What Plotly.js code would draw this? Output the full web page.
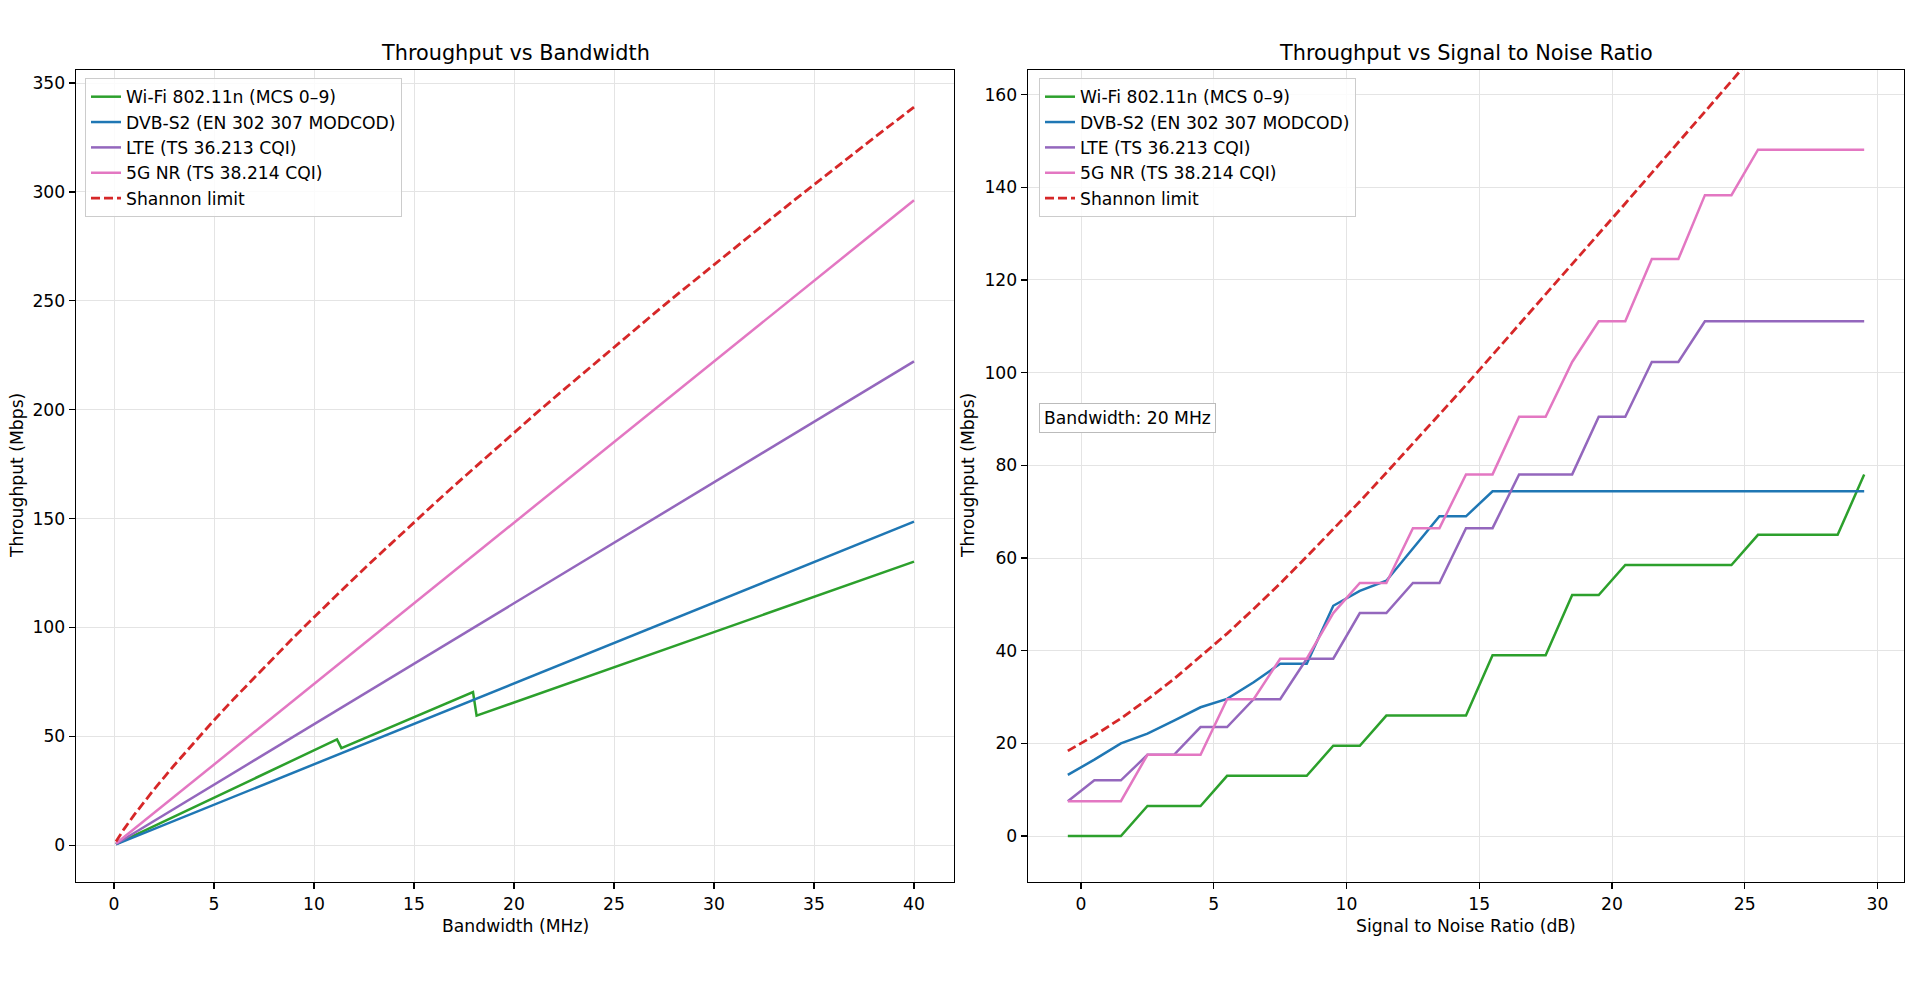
<!DOCTYPE html>
<html>
<head>
<meta charset="utf-8">
<script src="https://cdn.plot.ly/plotly-3.0.1.min.js"></script>
<style>
  html, body { margin: 0; padding: 0; background: #fff; }
  #chart { width: 1919px; height: 982px; }
</style>
</head>
<body>
<div id="chart"></div>
<script>
// left panel: throughput vs bandwidth
const bwMHz = [0.1, 40];
const dvbBw = [0.37, 148.6];
const lteBw = [0.56, 222.2];
const nrBw = [0.74, 296.2];
const wifiBwMHz = [0.1, 11.15, 11.37, 17.95, 18.13, 40];
const wifiBw = [0.44, 48.6, 44.6, 70.3, 59.5, 130.2];
const shannonBwMHz = [0.1, 0.5, 1, 2, 3, 4, 5, 6, 7, 8, 9, 10, 11, 12, 13, 14, 15, 16, 17, 18, 19, 20,
  21, 22, 23, 24, 25, 26, 27, 28, 29, 30, 31, 32, 33, 34, 35, 36, 37, 38, 39, 40];
const shannonBw = [1.7, 7.4, 13.8, 25.6, 36.6, 47.2, 57.4, 67.3, 76.9, 86.4, 95.6, 104.7, 113.7, 122.5,
  131.2, 139.8, 148.3, 156.7, 165.0, 173.2, 181.4, 189.5, 197.5, 205.4, 213.2, 221.1, 228.8, 236.5,
  244.1, 251.7, 259.2, 266.7, 274.1, 281.5, 288.8, 296.1, 303.4, 310.6, 317.7, 324.9, 331.9, 339.0];

// right panel: throughput vs SNR at 20 MHz
const snrDb = [-0.5, 0.5, 1.5, 2.5, 3.5, 4.5, 5.5, 6.5, 7.5, 8.5, 9.5, 10.5, 11.5, 12.5, 13.5, 14.5,
  15.5, 16.5, 17.5, 18.5, 19.5, 20.5, 21.5, 22.5, 23.5, 24.5, 25.5, 26.5, 27.5, 28.5, 29.5];
const wifiSnr = [0, 0, 0, 6.5, 6.5, 6.5, 13, 13, 13, 13, 19.5, 19.5, 26, 26, 26, 26, 39, 39, 39,
  52, 52, 58.5, 58.5, 58.5, 58.5, 58.5, 65, 65, 65, 65, 78];
const dvbSnr = [13.2, 16.5, 20.0, 22.1, 24.9, 27.8, 29.6, 33.2, 37.2, 37.2, 49.7, 52.9, 55.1, 62.0,
  69.0, 69.0, 74.4, 74.4, 74.4, 74.4, 74.4, 74.4, 74.4, 74.4, 74.4, 74.4, 74.4, 74.4, 74.4, 74.4, 74.4];
const lteSnr = [7.54, 12.03, 12.03, 17.54, 17.54, 23.52, 23.52, 29.53, 29.53, 38.28, 38.28, 48.13,
  48.13, 54.61, 54.61, 66.45, 66.45, 78.05, 78.05, 78.05, 90.47, 90.47, 102.3, 102.3,
  111.1, 111.1, 111.1, 111.1, 111.1, 111.1, 111.1];
const nrSnr = [7.54, 7.54, 7.54, 17.54, 17.54, 17.54, 29.53, 29.53, 38.28, 38.28, 48.13, 54.61, 54.61,
  66.45, 66.45, 78.05, 78.05, 90.47, 90.47, 102.3, 111.1, 111.1, 124.5, 124.5, 138.3, 138.3,
  148.1, 148.1, 148.1, 148.1, 148.1];
const shannonSnr = [18.4, 21.7, 25.4, 29.5, 33.9, 38.7, 43.7, 49.0, 54.5, 60.3, 66.2, 72.2, 78.4,
  84.6, 91.0, 97.3, 103.8, 110.3, 116.8, 123.3, 129.9, 136.5, 143.1, 149.6, 156.3, 162.9,
  169.5, 176.1, 182.8, 189.4, 196.0];

const names = ['Wi-Fi 802.11n (MCS 0\u20139)', 'DVB-S2 (EN 302 307 MODCOD)', 'LTE (TS 36.213 CQI)',
  '5G NR (TS 38.214 CQI)', 'Shannon limit'];
const colors = ['#2ca02c', '#1f77b4', '#9467bd', '#e377c2', '#d62728'];

const W = 1919, H = 982;
const FS = 17.2;
const font = 'DejaVu Sans, sans-serif';

function line(x, y, i, side) {
  const isLeft = side === 'l';
  return {
    x: x, y: y, type: 'scatter', mode: 'lines',
    name: names[i],
    xaxis: isLeft ? 'x' : 'x2',
    yaxis: isLeft ? 'y' : 'y2',
    legend: isLeft ? 'legend' : 'legend2',
    legendgroup: side + i,
    line: { color: colors[i], width: i === 4 ? 2.8 : 2.5, dash: i === 4 ? '9px,4px' : 'solid' }
  };
}

const traces = [
  line(wifiBwMHz, wifiBw, 0, 'l'),
  line(bwMHz, dvbBw, 1, 'l'),
  line(bwMHz, lteBw, 2, 'l'),
  line(bwMHz, nrBw, 3, 'l'),
  line(shannonBwMHz, shannonBw, 4, 'l'),
  line(snrDb, wifiSnr, 0, 'r'),
  line(snrDb, dvbSnr, 1, 'r'),
  line(snrDb, lteSnr, 2, 'r'),
  line(snrDb, nrSnr, 3, 'r'),
  line(snrDb, shannonSnr, 4, 'r')
];

function axis(extra) {
  return Object.assign({
    showline: true, linecolor: 'black', linewidth: 1.3, mirror: true,
    ticks: 'outside', ticklen: 6, tickwidth: 1.3, tickcolor: 'black',
    showgrid: true, gridcolor: '#e4e4e4', gridwidth: 1,
    zeroline: false, tickmode: 'linear', tick0: 0,
    tickfont: { size: FS, color: 'black', family: font }
  }, extra);
}

const plotTop = 70, plotBottom = 882;
const yDom = [1 - plotBottom / H, 1 - plotTop / H];
const lDom = [76 / W, 954 / W];
const rDom = [1028 / W, 1904 / W];

function legend(xPx) {
  return {
    x: xPx / W, y: 1 - 78 / H, xanchor: 'left', yanchor: 'top',
    bgcolor: 'rgba(255,255,255,0.85)', bordercolor: '#cccccc', borderwidth: 1,
    font: { size: FS, family: font, color: 'black' },
    tracegroupgap: 0
  };
}

function txt(text, x, y, size, extra) {
  return Object.assign({
    text: text, xref: 'paper', yref: 'paper', x: x, y: y,
    xanchor: 'center', yanchor: 'middle', showarrow: false,
    font: { size: size, family: font, color: 'black' }
  }, extra || {});
}

const layout = {
  width: W, height: H,
  margin: { l: 0, r: 0, t: 0, b: 0 },
  paper_bgcolor: 'white', plot_bgcolor: 'white',
  font: { family: font, color: 'black' },
  showlegend: true,
  xaxis: axis({ domain: lDom, range: [-1.9, 42], dtick: 5, anchor: 'y' }),
  yaxis: axis({ domain: yDom, range: [-16.9, 356], dtick: 50, anchor: 'x' }),
  xaxis2: axis({ domain: rDom, range: [-2, 31], dtick: 5, anchor: 'y2' }),
  yaxis2: axis({ domain: yDom, range: [-9.9, 165.3], dtick: 20, anchor: 'x2' }),
  legend: legend(85),
  legend2: legend(1039),
  annotations: [
    txt('Throughput vs Bandwidth', (lDom[0] + lDom[1]) / 2, 1 - 53 / H, 20.8),
    txt('Throughput vs Signal to Noise Ratio', (rDom[0] + rDom[1]) / 2, 1 - 53 / H, 20.8),
    txt('Bandwidth (MHz)', (lDom[0] + lDom[1]) / 2, 1 - 926 / H, FS),
    txt('Signal to Noise Ratio (dB)', (rDom[0] + rDom[1]) / 2, 1 - 926 / H, FS),
    txt('Throughput (Mbps)', 17 / W, 1 - 476 / H, FS, { textangle: -90 }),
    txt('Throughput (Mbps)', 968 / W, 1 - 476 / H, FS, { textangle: -90 }),
    txt('Bandwidth: 20 MHz', 1039 / W, 1 - 418 / H, FS, {
      xanchor: 'left', bgcolor: 'white', bordercolor: '#bbbbbb', borderwidth: 1, borderpad: 4
    })
  ]
};

Plotly.newPlot('chart', traces, layout, { displayModeBar: false, staticPlot: true });
</script>
</body>
</html>
